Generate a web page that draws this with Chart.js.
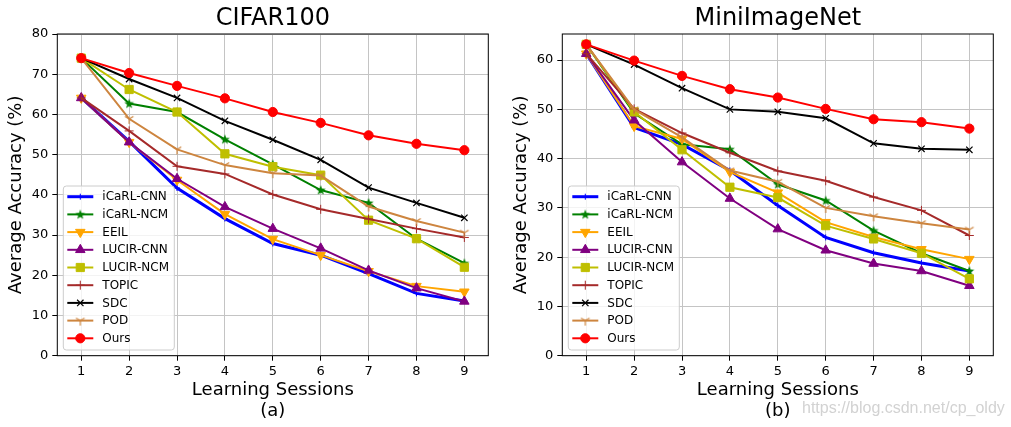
<!DOCTYPE html>
<html>
<head>
<meta charset="utf-8">
<script src="https://cdn.jsdelivr.net/npm/chart.js@4.4.0/dist/chart.umd.min.js"></script>
<style>
  html, body { margin: 0; padding: 0; background: #fff; }
  #wrap { position: relative; width: 1011px; height: 427px; overflow: hidden; }
  canvas { position: absolute; top: 0; }
  #c1 { left: 0; }
  #c2 { left: 505px; }
  #mark { position: absolute; left: 802px; top: 399px; font: 16px "Liberation Sans", Arial, sans-serif; color: #d2d2d2; white-space: nowrap; }
</style>
</head>
<body>
<div id="wrap">
  <canvas id="c1" width="505" height="427"></canvas>
  <canvas id="c2" width="505" height="427"></canvas>
  <div id="mark">https://blog.csdn.net/cp_oldy</div>
</div>
<script>
// x categories and series names
var sessions = ['1', '2', '3', '4', '5', '6', '7', '8', '9'];
var methods = ['iCaRL-CNN', 'iCaRL-NCM', 'EEIL', 'LUCIR-CNN', 'LUCIR-NCM', 'TOPIC', 'SDC', 'POD', 'Ours'];

// CIFAR100 (a)
var cifarIcarlCnn = [64.1, 53.3, 41.7, 34.1, 27.9, 25.0, 20.4, 15.5, 13.6];
var cifarIcarlNcm = [74.0, 62.7, 60.6, 53.8, 47.6, 41.2, 38.0, 29.1, 23.0];
var cifarEeil     = [64.1, 53.1, 43.7, 35.2, 29.0, 25.0, 21.0, 17.3, 15.9];
var cifarLucirCnn = [64.1, 53.1, 44.0, 37.0, 31.6, 26.7, 21.2, 16.8, 13.5];
var cifarLucirNcm = [74.0, 66.2, 60.6, 50.2, 47.0, 44.9, 33.7, 29.1, 22.0];
var cifarTopic    = [64.1, 55.9, 47.1, 45.2, 40.1, 36.4, 34.0, 31.6, 29.4];
var cifarSdc      = [74.0, 68.8, 64.1, 58.4, 53.7, 48.7, 41.8, 38.0, 34.3];
var cifarPod      = [74.0, 58.9, 51.3, 47.4, 45.4, 44.8, 37.1, 33.5, 30.6];
var cifarOurs     = [74.0, 70.3, 67.1, 64.0, 60.6, 57.9, 54.8, 52.7, 51.1];

// MiniImageNet (b)
var miniIcarlCnn = [61.3, 46.3, 42.9, 37.6, 30.5, 24.0, 20.9, 18.8, 17.2];
var miniIcarlNcm = [63.2, 49.2, 42.9, 41.9, 34.8, 31.5, 25.4, 20.8, 17.2];
var miniEeil     = [61.3, 46.6, 44.0, 37.3, 33.1, 27.1, 24.1, 21.6, 19.6];
var miniLucirCnn = [61.3, 47.8, 39.3, 31.9, 25.7, 21.4, 18.7, 17.2, 14.2];
var miniLucirNcm = [63.2, 49.5, 41.8, 34.2, 32.1, 26.4, 23.7, 20.8, 15.6];
var miniTopic    = [61.3, 50.1, 45.2, 41.2, 37.5, 35.5, 32.2, 29.5, 24.4];
var miniSdc      = [63.2, 59.1, 54.3, 50.0, 49.5, 48.2, 43.1, 42.0, 41.8];
var miniPod      = [63.2, 50.0, 44.3, 37.6, 35.3, 30.0, 28.3, 26.9, 25.6];
var miniOurs     = [63.2, 59.9, 56.8, 54.1, 52.4, 50.1, 48.0, 47.4, 46.1];

var FONT = '"DejaVu Sans", sans-serif';

// small marker images for shapes Chart.js does not have
function starMarker(color) {
  var c = document.createElement('canvas');
  c.width = 12; c.height = 12;
  var g = c.getContext('2d');
  g.fillStyle = color;
  g.beginPath();
  for (var k = 0; k < 10; k++) {
    var r = k % 2 ? 2.1 : 5.2;
    var a = -Math.PI / 2 + k * Math.PI / 5;
    var px = 6 + r * Math.cos(a), py = 6.3 + r * Math.sin(a);
    if (k) g.lineTo(px, py); else g.moveTo(px, py);
  }
  g.closePath();
  g.fill();
  return c;
}
function triDownMarker(color) {
  var c = document.createElement('canvas');
  c.width = 12; c.height = 12;
  var g = c.getContext('2d');
  g.strokeStyle = color;
  g.lineWidth = 1.2;
  g.beginPath();
  g.moveTo(6, 6); g.lineTo(6, 11);
  g.moveTo(6, 6); g.lineTo(1.7, 3.5);
  g.moveTo(6, 6); g.lineTo(10.3, 3.5);
  g.stroke();
  return c;
}

var styles = [
  { color: '#0000ff', width: 3, marker: 'cross', size: 3, edge: 1 },
  { color: '#008000', width: 2, marker: starMarker('#008000'), size: 5, edge: 1 },
  { color: '#ffa500', width: 2, marker: 'triangle', rot: 180, size: 5.5, edge: 1 },
  { color: '#800080', width: 2, marker: 'triangle', size: 5.5, edge: 1 },
  { color: '#bfbf00', width: 2, marker: 'rect', size: 5.8, edge: 1 },
  { color: '#a52a2a', width: 2, marker: 'cross', size: 4.5, edge: 1 },
  { color: '#000000', width: 2, marker: 'crossRot', size: 4.5, edge: 1.2 },
  { color: '#cd853f', width: 2, marker: triDownMarker('#cd853f'), size: 5, edge: 1 },
  { color: '#ff0000', width: 2, marker: 'circle', size: 4.6, edge: 1 }
];

function makeSets(rows) {
  return methods.map(function (name, i) {
    var st = styles[i];
    return {
      label: name,
      data: rows[i],
      order: methods.length - 1 - i,
      borderColor: st.color,
      backgroundColor: st.color,
      pointBackgroundColor: st.color,
      pointBorderColor: st.color,
      borderWidth: st.width,
      pointStyle: st.marker,
      pointRadius: st.size,
      pointRotation: st.rot || 0,
      pointBorderWidth: st.edge,
      tension: 0
    };
  });
}

// matplotlib style legend inside the axes, bottom left
var boxLegend = {
  id: 'boxLegend',
  afterDraw: function (chart) {
    var ctx = chart.ctx, area = chart.chartArea;
    var sets = chart.data.datasets;
    var x0 = area.left + 6, w = 111, h = 164;
    var y0 = area.bottom - 5.7 - h;
    ctx.save();
    ctx.beginPath();
    if (ctx.roundRect) ctx.roundRect(x0, y0, w, h, 3); else ctx.rect(x0, y0, w, h);
    ctx.fillStyle = 'rgba(255,255,255,0.8)';
    ctx.fill();
    ctx.strokeStyle = '#cccccc';
    ctx.lineWidth = 1;
    ctx.stroke();
    sets.forEach(function (ds, i) {
      var cy = y0 + 10.7 + i * 17.7;
      ctx.strokeStyle = ds.borderColor;
      ctx.lineWidth = ds.borderWidth;
      ctx.beginPath();
      ctx.moveTo(x0 + 4, cy);
      ctx.lineTo(x0 + 30, cy);
      ctx.stroke();
      ctx.fillStyle = ds.pointBackgroundColor;
      ctx.strokeStyle = ds.pointBorderColor;
      ctx.lineWidth = ds.pointBorderWidth;
      Chart.helpers.drawPoint(ctx, {
        pointStyle: ds.pointStyle, rotation: ds.pointRotation,
        radius: ds.pointRadius, borderWidth: ds.pointBorderWidth
      }, x0 + 17, cy);
      ctx.fillStyle = '#000';
      ctx.font = '12px ' + FONT;
      ctx.textBaseline = 'middle';
      ctx.textAlign = 'left';
      ctx.fillText(ds.label, x0 + 39, cy + 0.5);
    });
    ctx.restore();
  }
};

// black box around the axes
var frame = {
  id: 'frame',
  afterDatasetsDraw: function (chart) {
    var ctx = chart.ctx, a = chart.chartArea;
    ctx.save();
    ctx.strokeStyle = '#000';
    ctx.lineWidth = 1;
    ctx.strokeRect(a.left, a.top, a.right - a.left, a.bottom - a.top);
    ctx.restore();
  }
};

function makeChart(id, title, sub, rows, yMax) {
  return new Chart(document.getElementById(id), {
    type: 'line',
    data: { labels: sessions, datasets: makeSets(rows) },
    options: {
      responsive: false,
      animation: false,
      devicePixelRatio: 1,
      layout: { padding: { left: 0, right: 16.7, top: 0, bottom: 0 } },
      plugins: {
        legend: { display: false },
        tooltip: { enabled: false },
        title: {
          display: true, text: title, fullSize: false, color: '#000',
          font: { family: FONT, size: 24, weight: 'normal', lineHeight: 1.2 },
          padding: { top: 4.6, bottom: 0.6 }
        }
      },
      scales: {
        x: {
          type: 'category',
          offset: true,
          afterFit: function (s) { s.height = 71.3; },
          grid: { offset: false, color: '#c4c4c4', lineWidth: 1, tickColor: '#000', tickLength: 5 },
          border: { display: false },
          ticks: { color: '#000', font: { family: FONT, size: 13 }, padding: 3, maxRotation: 0 },
          title: {
            display: true, text: ['Learning Sessions', sub], color: '#000',
            font: { family: FONT, size: 18, lineHeight: 1.17 },
            padding: { top: 0, bottom: 4.8 }
          }
        },
        y: {
          min: 0,
          max: yMax,
          afterFit: function (s) { s.width = 57.3; },
          grid: { color: '#c4c4c4', lineWidth: 1, tickColor: '#000', tickLength: 5 },
          border: { display: false },
          ticks: { stepSize: 10, includeBounds: false, color: '#000', font: { family: FONT, size: 13 }, padding: 4 },
          title: {
            display: true, text: 'Average Accuracy (%)', color: '#000',
            font: { family: FONT, size: 18, lineHeight: 1.2 },
            padding: { top: 6, bottom: 0 }
          }
        }
      }
    },
    plugins: [frame, boxLegend]
  });
}

makeChart('c1', 'CIFAR100', '(a)',
  [cifarIcarlCnn, cifarIcarlNcm, cifarEeil, cifarLucirCnn, cifarLucirNcm, cifarTopic, cifarSdc, cifarPod, cifarOurs], 80);
makeChart('c2', 'MiniImageNet', '(b)',
  [miniIcarlCnn, miniIcarlNcm, miniEeil, miniLucirCnn, miniLucirNcm, miniTopic, miniSdc, miniPod, miniOurs], 65.3);
</script>
</body>
</html>
